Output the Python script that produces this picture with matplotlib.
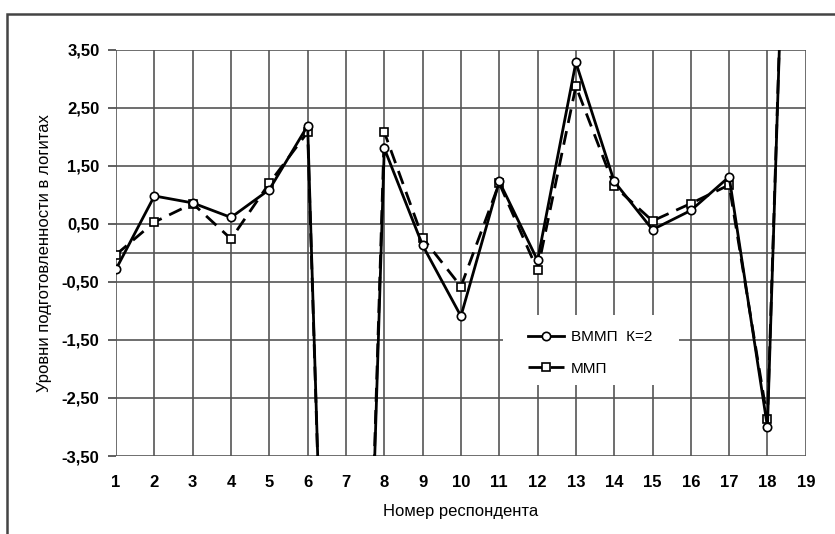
import matplotlib
matplotlib.use("Agg")
import matplotlib.pyplot as plt
from matplotlib.patches import Rectangle

plt.rcParams['font.family'] = ['Liberation Sans', 'DejaVu Sans']

# номера респондентов
respondents = list(range(1, 20))
# ВММП K=2 (7 и 19 уходят за пределы шкалы)
vmmp = [-0.28, 0.98, 0.86, 0.61, 1.09, 2.19, -19.5, 1.80, 0.13, -1.09,
        1.23, -0.13, 3.28, 1.23, 0.40, 0.73, 1.31, -3.00, 18.0]
# ММП
mmp = [-0.03, 0.53, 0.85, 0.24, 1.20, 2.08, -19.5, 2.08, 0.26, -0.58,
       1.20, -0.30, 2.87, 1.15, 0.55, 0.85, 1.17, -2.87, 18.0]

y_ticks = [3.5, 2.5, 1.5, 0.5, -0.5, -1.5, -2.5, -3.5]
y_tick_labels = ['3,50', '2,50', '1,50', '0,50', '-0,50', '-1,50', '-2,50', '-3,50']

fig = plt.figure(figsize=(8.35, 5.34), dpi=100)
ax = fig.add_axes([0.139, 0.146, 0.826, 0.761])

ax.plot(respondents, vmmp, '-', color='black', lw=2.0, marker='o', ms=6,
        mfc='white', mec='black', mew=1.2, label='ВММП  К=2', zorder=4)
ax.plot(respondents, mmp, '--', color='black', lw=2.0, dashes=(5, 3),
        marker='s', ms=6, mfc='white', mec='black', mew=1.2, label='ММП', zorder=3)

ax.set_xlim(1, 19)
ax.set_ylim(-3.5, 3.5)
ax.set_xticks(respondents)
ax.set_xticklabels([str(r) for r in respondents], fontsize=12, fontweight='bold')
ax.set_yticks(y_ticks)
ax.set_yticklabels(y_tick_labels, fontsize=12, fontweight='bold')
ax.tick_params(axis='x', length=0, pad=14)
ax.tick_params(axis='y', length=6, width=1.2, color='#444', pad=6)

for x in respondents:
    ax.axvline(x, color='#555', lw=1.2, zorder=1)
for y in y_ticks + [0]:
    ax.axhline(y, color='#555', lw=1.2, zorder=1)

for s in ax.spines.values():
    s.set_visible(False)

ax.set_xlabel('Номер респондента', fontsize=12, labelpad=10)
ax.set_ylabel('Уровни подготовленности в логитах', fontsize=12, labelpad=7)

# белая подложка легенды
ax.add_patch(Rectangle((0.561, 0.175), 0.255, 0.172, transform=ax.transAxes,
                       facecolor='white', edgecolor='none', zorder=5))
leg = ax.legend(loc='center left', bbox_to_anchor=(0.597, 0.254),
                frameon=False, fontsize=11, handlelength=2.4,
                borderpad=0, borderaxespad=0, labelspacing=1.15, handletextpad=0.4)
leg.set_zorder(6)

fig.patches.append(Rectangle((7 / 835, -0.1), 1.2, 1 - 14 / 534 + 0.1,
                             transform=fig.transFigure, fill=False,
                             edgecolor='#444', lw=1.8))

fig.savefig('out.png', dpi=100)
